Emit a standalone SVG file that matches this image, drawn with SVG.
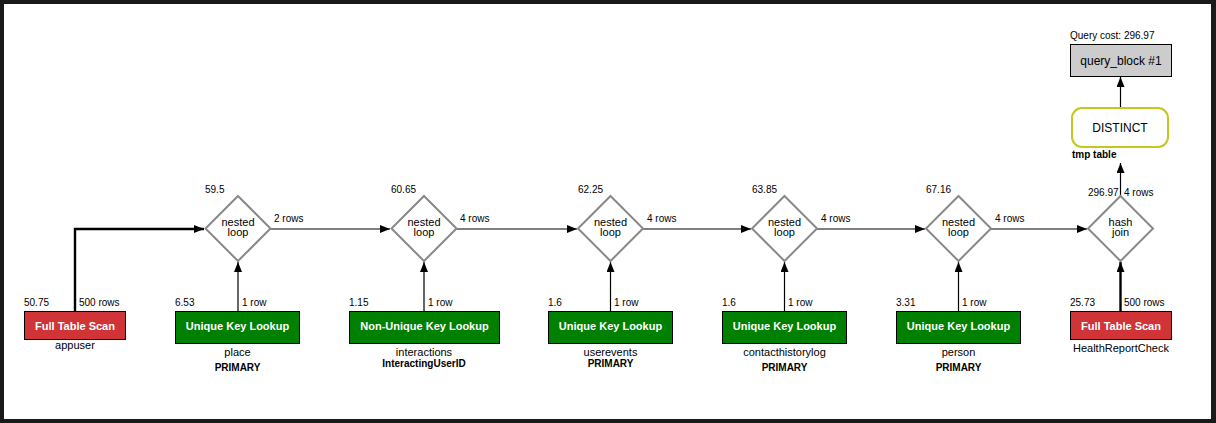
<svg xmlns="http://www.w3.org/2000/svg" width="1216" height="423" viewBox="0 0 1216 423">
<defs>
<marker id="ah" viewBox="0 0 10 8" refX="10" refY="4" markerWidth="10" markerHeight="8" markerUnits="userSpaceOnUse" orient="auto"><path d="M0,0 L10,4 L0,8 z" fill="#000"/></marker>
<marker id="ahb" viewBox="0 0 10 8" refX="10" refY="4" markerWidth="10" markerHeight="8" markerUnits="userSpaceOnUse" orient="auto"><path d="M0,0 L10,4 L0,8 z" fill="#000"/></marker>
</defs>
<style>
text{font-family:"Liberation Sans",Arial,Helvetica,sans-serif;fill:#000}
.s{font-size:10px}
.n{font-size:11px}
.b{font-size:10px;font-weight:bold}
.bt{font-size:11px;font-weight:bold;fill:#fff}
.dl{font-size:11px}
.red{fill:#d13436;stroke:#000;stroke-width:1}
.grn{fill:#008000;stroke:#000;stroke-width:1}
.dia{fill:#fff;stroke:#888;stroke-width:2}
.c{fill:none;stroke:#000;stroke-width:1.2}
.ct{fill:none;stroke:#000;stroke-width:2.4}
</style>
<rect x="0" y="0" width="1216" height="423" fill="#1a1a1a"/>
<rect x="4" y="4" width="1207" height="415" fill="#fff"/>

<g id="connectors">
<path class="ct" d="M75,311 V229 H204" marker-end="url(#ahb)"/>
<path class="c" d="M238,311 V262" marker-end="url(#ah)"/>
<path class="c" d="M270.5,229 H390" marker-end="url(#ah)"/>
<path class="c" d="M424,311 V262" marker-end="url(#ah)"/>
<path class="c" d="M456.5,229 H577" marker-end="url(#ah)"/>
<path class="c" d="M610.5,311 V262" marker-end="url(#ah)"/>
<path class="c" d="M643,229 H751" marker-end="url(#ah)"/>
<path class="c" d="M784.5,311 V262" marker-end="url(#ah)"/>
<path class="c" d="M817,229 H925" marker-end="url(#ah)"/>
<path class="c" d="M958.5,311 V262" marker-end="url(#ah)"/>
<path class="c" d="M991,229 H1087" marker-end="url(#ah)"/>
<path class="ct" d="M1120.5,311 V262" marker-end="url(#ahb)"/>
<path class="c" d="M1120.5,196 V163" marker-end="url(#ah)"/>
<path class="c" d="M1120.5,108 V77" marker-end="url(#ah)"/>
<text class="s" x="79" y="306">500 rows</text>
<text class="s" x="242" y="306">1 row</text>
<text class="s" x="274" y="222">2 rows</text>
<text class="s" x="428" y="306">1 row</text>
<text class="s" x="460" y="222">4 rows</text>
<text class="s" x="614" y="306">1 row</text>
<text class="s" x="647" y="222">4 rows</text>
<text class="s" x="788" y="306">1 row</text>
<text class="s" x="821" y="222">4 rows</text>
<text class="s" x="962" y="306">1 row</text>
<text class="s" x="995" y="222">4 rows</text>
<text class="s" x="1124" y="306">500 rows</text>
<text class="s" x="1124" y="196">4 rows</text>
</g>

<g id="scan-appuser">
<rect class="red" x="24.5" y="311.5" width="101" height="28"/>
<text class="bt" x="75" y="329.5" text-anchor="middle">Full Table Scan</text>
<text class="n" x="75" y="349" text-anchor="middle">appuser</text>
<text class="s" x="24" y="306">50.75</text>
</g>

<g id="nl1">
<path class="dia" d="M238,196 L270.5,228.5 L238,261 L205.5,228.5 z"/>
<text class="dl" x="238" y="225.5" text-anchor="middle">nested</text>
<text class="dl" x="238" y="236" text-anchor="middle">loop</text>
<text class="s" x="205" y="193">59.5</text>
</g>
<g id="lookup-place">
<rect class="grn" x="175.5" y="311.5" width="124" height="32"/>
<text class="bt" x="237.5" y="329.5" text-anchor="middle">Unique Key Lookup</text>
<text class="n" x="237.5" y="356" text-anchor="middle">place</text>
<text class="b" x="237.5" y="371" text-anchor="middle">PRIMARY</text>
<text class="s" x="175" y="306">6.53</text>
</g>

<g id="nl2">
<path class="dia" d="M424,196 L456.5,228.5 L424,261 L391.5,228.5 z"/>
<text class="dl" x="424" y="225.5" text-anchor="middle">nested</text>
<text class="dl" x="424" y="236" text-anchor="middle">loop</text>
<text class="s" x="391" y="193">60.65</text>
</g>
<g id="lookup-interactions">
<rect class="grn" x="349.5" y="311.5" width="150" height="32"/>
<text class="bt" x="424.5" y="329.5" text-anchor="middle">Non-Unique Key Lookup</text>
<text class="n" x="424" y="356" text-anchor="middle">interactions</text>
<text class="b" x="424" y="367" text-anchor="middle">InteractingUserID</text>
<text class="s" x="349" y="306">1.15</text>
</g>

<g id="nl3">
<path class="dia" d="M610.5,196 L643,228.5 L610.5,261 L578,228.5 z"/>
<text class="dl" x="610.5" y="225.5" text-anchor="middle">nested</text>
<text class="dl" x="610.5" y="236" text-anchor="middle">loop</text>
<text class="s" x="578" y="193">62.25</text>
</g>
<g id="lookup-userevents">
<rect class="grn" x="548.5" y="311.5" width="124" height="32"/>
<text class="bt" x="610.5" y="329.5" text-anchor="middle">Unique Key Lookup</text>
<text class="n" x="610.5" y="356" text-anchor="middle">userevents</text>
<text class="b" x="610.5" y="367" text-anchor="middle">PRIMARY</text>
<text class="s" x="548" y="306">1.6</text>
</g>

<g id="nl4">
<path class="dia" d="M784.5,196 L817,228.5 L784.5,261 L752,228.5 z"/>
<text class="dl" x="784.5" y="225.5" text-anchor="middle">nested</text>
<text class="dl" x="784.5" y="236" text-anchor="middle">loop</text>
<text class="s" x="752" y="193">63.85</text>
</g>
<g id="lookup-contacthistorylog">
<rect class="grn" x="722.5" y="311.5" width="124" height="32"/>
<text class="bt" x="784.5" y="329.5" text-anchor="middle">Unique Key Lookup</text>
<text class="n" x="784.5" y="356" text-anchor="middle">contacthistorylog</text>
<text class="b" x="784.5" y="371" text-anchor="middle">PRIMARY</text>
<text class="s" x="722" y="306">1.6</text>
</g>

<g id="nl5">
<path class="dia" d="M958.5,196 L991,228.5 L958.5,261 L926,228.5 z"/>
<text class="dl" x="958.5" y="225.5" text-anchor="middle">nested</text>
<text class="dl" x="958.5" y="236" text-anchor="middle">loop</text>
<text class="s" x="926" y="193">67.16</text>
</g>
<g id="lookup-person">
<rect class="grn" x="896.5" y="311.5" width="124" height="32"/>
<text class="bt" x="958.5" y="329.5" text-anchor="middle">Unique Key Lookup</text>
<text class="n" x="958.5" y="356" text-anchor="middle">person</text>
<text class="b" x="958.5" y="371" text-anchor="middle">PRIMARY</text>
<text class="s" x="896" y="306">3.31</text>
</g>

<g id="hashjoin">
<path class="dia" d="M1120.5,196 L1153,228.5 L1120.5,261 L1088,228.5 z"/>
<text class="dl" x="1120.5" y="225.5" text-anchor="middle">hash</text>
<text class="dl" x="1120.5" y="236" text-anchor="middle">join</text>
<text class="s" x="1088" y="196">296.97</text>
</g>
<g id="scan-healthreportcheck">
<rect class="red" x="1070.5" y="311.5" width="101" height="28"/>
<text class="bt" x="1121" y="329.5" text-anchor="middle">Full Table Scan</text>
<text class="n" x="1121" y="352" text-anchor="middle">HealthReportCheck</text>
<text class="s" x="1070" y="306">25.73</text>
</g>

<g id="distinct">
<rect x="1072" y="108" width="96" height="39" rx="10" ry="10" fill="#fff" stroke="#c3c81e" stroke-width="2"/>
<text x="1120" y="131.5" text-anchor="middle" style="font-size:12px">DISTINCT</text>
<text class="b" x="1072" y="158">tmp table</text>
</g>

<g id="queryblock">
<rect x="1070.5" y="44.5" width="101" height="32" fill="#ccc" stroke="#000" stroke-width="1"/>
<text x="1121" y="64.5" text-anchor="middle" style="font-size:12px">query_block #1</text>
<text class="s" x="1070" y="39">Query cost: 296.97</text>
</g>
</svg>
